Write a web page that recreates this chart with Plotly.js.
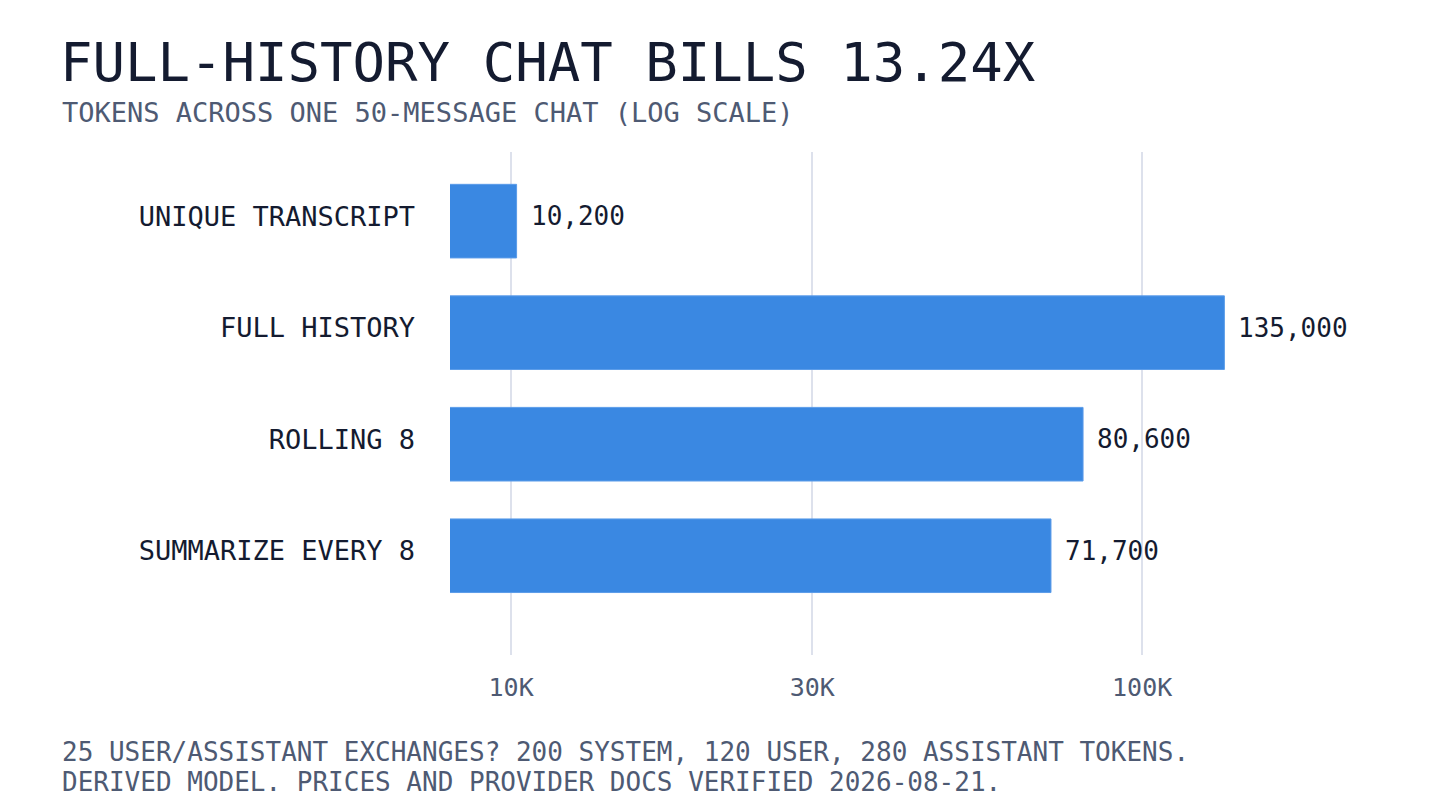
<!DOCTYPE html>
<html>
<head>
<meta charset="utf-8">
<script src="https://cdn.plot.ly/plotly-3.0.1.min.js"></script>
<style>html,body{margin:0;padding:0;background:#fff;}#chart{width:1440px;height:810px;}</style>
</head>
<body>
<div id="chart"></div>
<script>
const categories = ["UNIQUE TRANSCRIPT", "FULL HISTORY", "ROLLING 8", "SUMMARIZE EVERY 8"];
const tokens = [10200, 135000, 80600, 71700];
const tickValues = [10000, 30000, 100000];
const tickLabels = ["10K", "30K", "100K"];
const titleText = "FULL-HISTORY CHAT BILLS 13.24X";
const subtitleText = "TOKENS ACROSS ONE 50-MESSAGE CHAT (LOG SCALE)";
const footerLines = [
  "25 USER/ASSISTANT EXCHANGES? 200 SYSTEM, 120 USER, 280 ASSISTANT TOKENS.",
  "DERIVED MODEL. PRICES AND PROVIDER DOCS VERIFIED 2026-08-21."
];

const FONT = "DejaVu Sans Mono, Liberation Mono, monospace";
const DARK = "#141b30";
const SLATE = "#4e5a73";

const fmt = v => v.toLocaleString("en-US");

const plotL = 450, plotR = 50, plotT = 152, plotB = 155;
const plotW = 1440 - plotL - plotR, plotH = 810 - plotT - plotB;
const pxToPaperX = px => (px - plotL) / plotW;
const pxToPaperY = py => (810 - plotB - py) / plotH;

const trace = {
  type: "bar",
  orientation: "h",
  y: categories,
  x: tokens,
  marker: {color: "#3a88e2", line: {color: "#5b9ce9", width: 1}},
  width: 0.66,
  hoverinfo: "skip",
  cliponaxis: false
};

const annotations = tokens.map((v, i) => ({
  x: Math.log10(v), y: categories[i], xref: "x", yref: "y",
  text: fmt(v), showarrow: false, xanchor: "left", xshift: 12, yshift: 5,
  font: {family: FONT, size: 26, color: DARK}
}));
annotations.push({
  xref: "paper", yref: "paper", x: pxToPaperX(60), y: pxToPaperY(112),
  xanchor: "left", yanchor: "middle", showarrow: false, text: subtitleText,
  font: {family: FONT, size: 27, color: SLATE}
});
footerLines.forEach((t, i) => annotations.push({
  xref: "paper", yref: "paper", x: pxToPaperX(60), y: pxToPaperY(752 + i * 30),
  xanchor: "left", yanchor: "middle", showarrow: false, text: t,
  font: {family: FONT, size: 26, color: SLATE}
}));

const layout = {
  width: 1440, height: 810,
  paper_bgcolor: "#ffffff", plot_bgcolor: "#ffffff",
  margin: {l: plotL, r: plotR, t: plotT, b: plotB, pad: 0},
  showlegend: false,
  title: {
    text: titleText, xref: "container", yref: "container",
    x: 60 / 1440, xanchor: "left", y: 1 - 62 / 810, yanchor: "middle",
    font: {family: FONT, size: 54, color: DARK}
  },
  xaxis: {
    type: "log",
    range: [Math.log10(8000), Math.log10(8000) + plotW / 631],
    tickvals: tickValues, ticktext: tickLabels,
    showgrid: true, gridcolor: "#dde1ec", gridwidth: 1.5,
    zeroline: false, showline: false, ticks: "",
    ticklabelstandoff: 15,
    tickfont: {family: FONT, size: 25, color: SLATE},
    fixedrange: true
  },
  yaxis: {
    type: "category",
    categoryorder: "array", categoryarray: categories,
    range: [3.89, -0.62],
    showgrid: false, zeroline: false, showline: false, ticks: "",
    ticklabelstandoff: 34,
    ticklabelshift: 5,
    tickfont: {family: FONT, size: 27, color: DARK},
    fixedrange: true
  },
  annotations: annotations
};

Plotly.newPlot("chart", [trace], layout, {displayModeBar: false, staticPlot: true});
</script>
</body>
</html>
